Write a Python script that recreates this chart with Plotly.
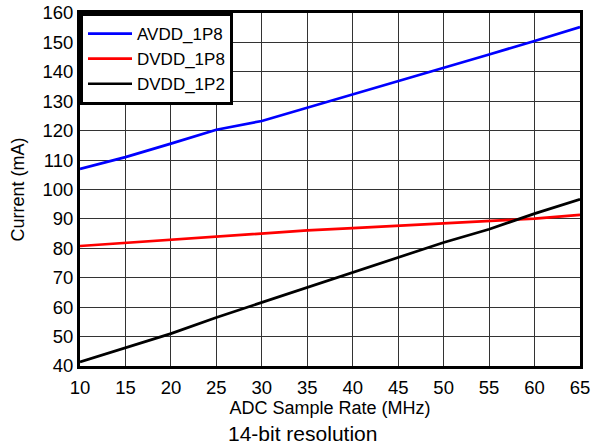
import plotly.graph_objects as go

rate = [10, 15, 20, 25, 30, 35, 40, 45, 50, 55, 60, 65]
avdd_1p8 = [107, 111, 115.6, 120.3, 123.3, 127.8, 132.2, 136.7, 141.2, 145.9, 150.5, 155.2]
dvdd_1p8 = [80.8, 81.9, 83, 84.1, 85.2, 86.1, 86.9, 87.7, 88.4, 89.1, 90.1, 91.4]
dvdd_1p2 = [41.4, 46.1, 51.0, 56.5, 61.6, 66.7, 71.9, 77.0, 82.0, 86.5, 91.8, 96.7]

x_ticks = list(range(10, 70, 5))
y_ticks = list(range(40, 170, 10))

font = "Liberation Sans, Arial, sans-serif"

fig = go.Figure()
fig.add_trace(go.Scatter(x=rate, y=avdd_1p8, mode="lines", name="AVDD_1P8",
                         line=dict(color="#0000ff", width=2.7)))
fig.add_trace(go.Scatter(x=rate, y=dvdd_1p8, mode="lines", name="DVDD_1P8",
                         line=dict(color="#ff0000", width=2.7)))
fig.add_trace(go.Scatter(x=rate, y=dvdd_1p2, mode="lines", name="DVDD_1P2",
                         line=dict(color="#000000", width=2.7)))

axis_common = dict(
    showline=True, linecolor="black", linewidth=3, mirror=True,
    showgrid=True, gridcolor="#333333", gridwidth=1,
    zeroline=False, ticks="", tickfont=dict(family=font, size=18.5, color="black"),
    automargin=False, ticklabeloverflow="allow",
)

fig.update_layout(
    width=591, height=448,
    margin=dict(l=80, r=11, t=13, b=82),
    paper_bgcolor="white", plot_bgcolor="white",
    font=dict(family=font, color="black"),
    showlegend=True,
    legend=dict(x=0, y=1, xanchor="left", yanchor="top",
                bordercolor="black", borderwidth=3, bgcolor="white",
                font=dict(family=font, size=17, color="black"),
                tracegroupgap=0, itemwidth=44),
    xaxis=dict(range=[10, 65], tickvals=x_ticks, **axis_common,
               ticklabelstandoff=3,
               title=dict(text="ADC Sample Rate (MHz)", standoff=2,
                          font=dict(family=font, size=18, color="black"))),
    yaxis=dict(range=[40, 160], tickvals=y_ticks, **axis_common,
               title=dict(text="Current (mA)", standoff=14,
                          font=dict(family=font, size=18, color="black"))),
    annotations=[dict(text="14-bit resolution", xref="paper", yref="paper",
                      x=0.445, y=-0.153, xanchor="center", yanchor="top", showarrow=False,
                      font=dict(family=font, size=21, color="black"))],
)

fig.write_html("out.html", config={"displayModeBar": False},
               post_script="document.body.style.margin='0';")
